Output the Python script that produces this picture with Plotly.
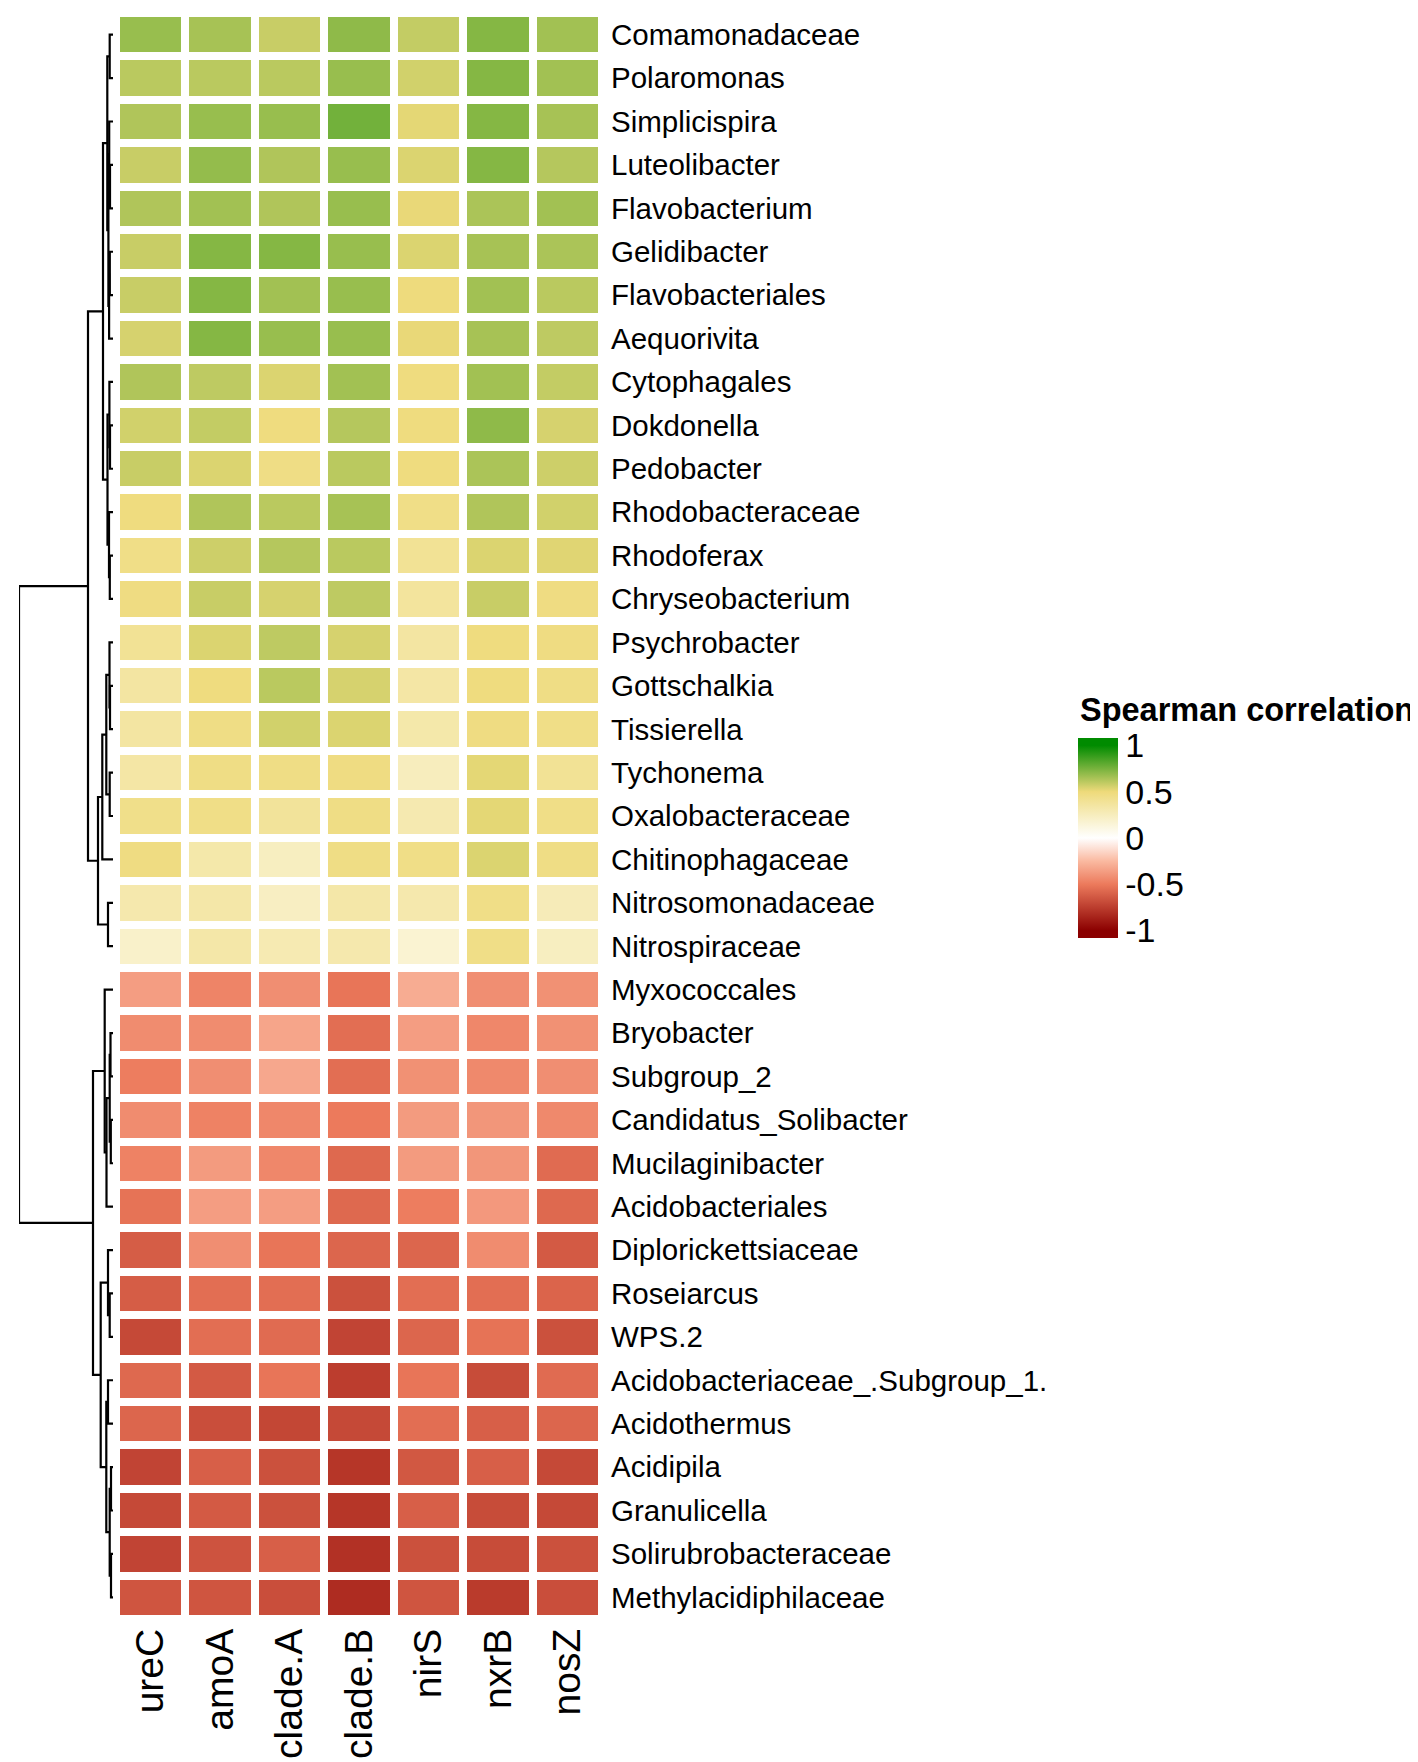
import plotly.graph_objects as go

# ---------------- data ----------------
rows = ["Comamonadaceae", "Polaromonas", "Simplicispira", "Luteolibacter", "Flavobacterium",
        "Gelidibacter", "Flavobacteriales", "Aequorivita", "Cytophagales", "Dokdonella",
        "Pedobacter", "Rhodobacteraceae", "Rhodoferax", "Chryseobacterium", "Psychrobacter",
        "Gottschalkia", "Tissierella", "Tychonema", "Oxalobacteraceae", "Chitinophagaceae",
        "Nitrosomonadaceae", "Nitrospiraceae", "Myxococcales", "Bryobacter", "Subgroup_2",
        "Candidatus_Solibacter", "Mucilaginibacter", "Acidobacteriales", "Diplorickettsiaceae",
        "Roseiarcus", "WPS.2", "Acidobacteriaceae_.Subgroup_1.", "Acidothermus", "Acidipila",
        "Granulicella", "Solirubrobacteraceae", "Methylacidiphilaceae"]

cols = ["ureC", "amoA", "clade.A", "clade.B", "nirS", "nxrB", "nosZ"]

ureC = [0.68, 0.61, 0.63, 0.58, 0.63, 0.58, 0.58, 0.55, 0.63, 0.56, 0.58, 0.48, 0.45, 0.47,
        0.40, 0.35, 0.35, 0.34, 0.44, 0.47, 0.31, 0.20,
        -0.36, -0.43, -0.49, -0.43, -0.47, -0.53, -0.62, -0.62, -0.70, -0.57, -0.58, -0.72,
        -0.70, -0.72, -0.65]
amoA = [0.65, 0.61, 0.68, 0.69, 0.66, 0.72, 0.72, 0.72, 0.60, 0.59, 0.54, 0.63, 0.57, 0.58,
        0.54, 0.48, 0.46, 0.46, 0.45, 0.32, 0.33, 0.33,
        -0.46, -0.43, -0.42, -0.47, -0.37, -0.36, -0.42, -0.55, -0.55, -0.63, -0.68, -0.61,
        -0.63, -0.66, -0.65]
cladeA = [0.58, 0.61, 0.68, 0.63, 0.63, 0.72, 0.66, 0.68, 0.54, 0.48, 0.46, 0.61, 0.62, 0.55,
          0.60, 0.61, 0.56, 0.46, 0.38, 0.24, 0.23, 0.29,
          -0.42, -0.33, -0.32, -0.45, -0.45, -0.36, -0.52, -0.55, -0.56, -0.52, -0.71, -0.67,
          -0.67, -0.61, -0.68]
cladeB = [0.70, 0.68, 0.76, 0.68, 0.68, 0.68, 0.68, 0.68, 0.66, 0.62, 0.61, 0.65, 0.61, 0.60,
          0.55, 0.55, 0.54, 0.47, 0.46, 0.46, 0.33, 0.31,
          -0.52, -0.55, -0.55, -0.50, -0.57, -0.57, -0.58, -0.67, -0.72, -0.75, -0.70, -0.78,
          -0.78, -0.80, -0.82]
nirS = [0.59, 0.56, 0.52, 0.54, 0.51, 0.54, 0.49, 0.51, 0.48, 0.48, 0.48, 0.45, 0.40, 0.37,
        0.35, 0.34, 0.32, 0.25, 0.30, 0.45, 0.31, 0.17,
        -0.30, -0.36, -0.41, -0.37, -0.37, -0.49, -0.58, -0.55, -0.58, -0.52, -0.55, -0.64,
        -0.61, -0.67, -0.65]
nxrB = [0.72, 0.72, 0.72, 0.72, 0.64, 0.65, 0.66, 0.65, 0.66, 0.70, 0.64, 0.63, 0.54, 0.58,
        0.48, 0.48, 0.47, 0.52, 0.52, 0.54, 0.45, 0.45,
        -0.42, -0.45, -0.44, -0.39, -0.39, -0.38, -0.43, -0.55, -0.53, -0.69, -0.61, -0.61,
        -0.69, -0.69, -0.76]
nosZ = [0.66, 0.66, 0.65, 0.62, 0.66, 0.64, 0.61, 0.60, 0.59, 0.55, 0.57, 0.56, 0.53, 0.47,
        0.47, 0.46, 0.45, 0.40, 0.45, 0.46, 0.27, 0.24,
        -0.41, -0.41, -0.42, -0.44, -0.56, -0.57, -0.63, -0.59, -0.67, -0.56, -0.58, -0.70,
        -0.70, -0.67, -0.68]

# row dendrogram (leaves are row indices, merge k creates cluster len(rows)+k)
merge_left = [0, 3, 2, 5, 40, 39, 37, 9, 8, 12, 11, 45, 43,
              15, 14, 17, 51, 53, 20, 54, 49,
              23, 25, 58, 60, 22, 29, 28, 31, 33, 35, 66, 65, 64, 62, 57]
merge_right = [1, 4, 38, 6, 7, 41, 42, 10, 44, 13, 46, 47, 48,
               16, 50, 18, 52, 19, 21, 55, 56,
               24, 26, 59, 27, 61, 30, 63, 32, 34, 36, 67, 68, 69, 70, 71]
merge_height = [3.3, 3.0, 3.8, 3.2, 3.9, 4.6, 5.7, 3.0, 3.6, 3.2, 4.0, 5.5, 10.0,
                3.0, 3.5, 3.3, 6.7, 10.7, 5.0, 15.0, 25.0,
                2.5, 2.2, 3.3, 6.5, 8.3, 3.3, 5.0, 5.0, 2.0, 2.0, 3.3, 6.7, 12.3, 20.0, 94.0]

legend_ticks = [1, 0.5, 0, -0.5, -1]

# ---------------- styling ----------------
W, H = 1418, 1762
FONT = "Liberation Sans, Arial, sans-serif"
ZMIN, ZMAX = -1.08, 1.08
scale_vals = [-1.0, -0.5, -0.25, 0.0, 0.25, 0.5, 1.0]
scale_cols = ["#8B0000", "#EC7A5C", "#FAB9A0", "#FFFFFF", "#F7EDBD", "#EEDA7A", "#008B00"]

colorscale = [[0.0, scale_cols[0]]]
for v, c in zip(scale_vals, scale_cols):
    colorscale.append([(v - ZMIN) / (ZMAX - ZMIN), c])
colorscale.append([1.0, scale_cols[-1]])

series = [ureC, amoA, cladeA, cladeB, nirS, nxrB, nosZ]
z = [[s[i] for s in series] for i in range(len(rows))]

# dendrogram segments
n = len(rows)
node = {i: (float(i), 0.0) for i in range(n)}
dx, dy = [], []
for k, (a, b, h) in enumerate(zip(merge_left, merge_right, merge_height)):
    ya, ha = node[a]
    yb, hb = node[b]
    dx += [ha, h, h, hb, None]
    dy += [ya, ya, yb, yb, None]
    node[n + k] = ((ya + yb) / 2.0, h)

# pixel layout
hm_left, hm_right, hm_top, hm_bottom = 108, 594, 5.0, 1611.0
dend_left, dend_right = 11, 105
cb_left, cb_top, cb_len, cb_thick = 1070, 730, 200, 40
dash = 10

fig = go.Figure()
fig.add_trace(go.Heatmap(
    z=z, x=list(range(len(cols))), y=list(range(n)),
    colorscale=colorscale, zmin=ZMIN, zmax=ZMAX, xgap=8, ygap=8,
    xaxis="x", yaxis="y", hoverongaps=False,
    colorbar=dict(
        thickness=cb_thick, thicknessmode="pixels", len=cb_len, lenmode="pixels",
        x=cb_left / W, xanchor="left", y=1 - (cb_top + cb_len / 2) / H, yanchor="middle",
        xpad=0, ypad=0, outlinewidth=0, ticks="",
        tickvals=legend_ticks, ticktext=[str(t) for t in legend_ticks],
        tickfont=dict(family=FONT, size=34, color="black"),
    ),
))
fig.add_trace(go.Scatter(
    x=dx, y=dy, mode="lines", xaxis="x2", yaxis="y",
    line=dict(color="black", width=2.2), showlegend=False, hoverinfo="skip",
))

# white tick dashes on both sides of the legend bar
shapes = []
for t in legend_ticks:
    ypx = cb_top + (ZMAX - t) / (ZMAX - ZMIN) * cb_len
    for x0 in (cb_left, cb_left + cb_thick - dash):
        shapes.append(dict(type="line", xref="paper", yref="paper",
                           x0=x0 / W, x1=(x0 + dash) / W,
                           y0=1 - ypx / H, y1=1 - ypx / H,
                           line=dict(color="white", width=2.5)))

fig.update_layout(
    width=W, height=H, autosize=False,
    margin=dict(l=0, r=0, t=0, b=0),
    paper_bgcolor="white", plot_bgcolor="white",
    font=dict(family=FONT, color="black"),
    showlegend=False,
    shapes=shapes,
    xaxis=dict(domain=[hm_left / W, hm_right / W], range=[-0.5, len(cols) - 0.5],
               tickvals=list(range(len(cols))), ticktext=cols, tickangle=-90,
               tickfont=dict(size=39, family=FONT, color="black"),
               showgrid=False, zeroline=False, showline=False, ticks="",
               ticklabelstandoff=1, anchor="y", fixedrange=True),
    yaxis=dict(domain=[1 - hm_bottom / H, 1 - hm_top / H], range=[n - 0.5, -0.5],
               side="right", tickvals=list(range(n)), ticktext=rows,
               tickfont=dict(size=29.5, family=FONT, color="black"),
               showgrid=False, zeroline=False, showline=False, ticks="",
               ticklabelstandoff=8, anchor="x", fixedrange=True),
    xaxis2=dict(domain=[dend_left / W, dend_right / W], range=[max(merge_height), 0],
                visible=False, anchor="y", fixedrange=True),
    annotations=[dict(text="<b>Spearman correlation</b>", xref="paper", yref="paper",
                      x=(cb_left + 1) / W, y=1 - 702 / H, xanchor="left", yanchor="middle",
                      showarrow=False, borderpad=0,
                      font=dict(size=32.5, family=FONT, color="black"))],
)

fig.write_html("out.html")
